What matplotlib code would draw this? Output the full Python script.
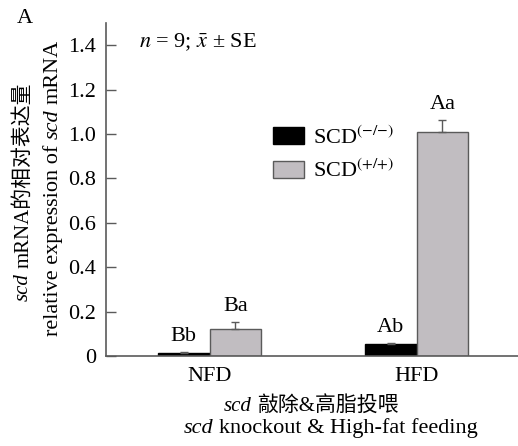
import matplotlib
matplotlib.use("Agg")
import matplotlib.pyplot as plt
from matplotlib.transforms import IdentityTransform
import numpy as np

plt.rcParams['font.family'] = ['Liberation Serif', 'Noto Sans CJK SC']
plt.rcParams['mathtext.fontset'] = 'stix'

groups = ["NFD", "HFD"]
ko_vals = [0.015, 0.055]
ko_se = [0.004, 0.005]
wt_vals = [0.122, 1.01]
wt_se = [0.032, 0.055]
ko_marks = ["Bb", "Ab"]
wt_marks = ["Ba", "Aa"]
yticks = [0, 0.2, 0.4, 0.6, 0.8, 1.0, 1.2, 1.4]
ytick_labels = ["0", "0.2", "0.4", "0.6", "0.8", "1.0", "1.2", "1.4"]

W, H = 518, 446
FS = 16

fig = plt.figure(figsize=(W / 100, H / 100), dpi=100)
ax = fig.add_axes([106 / W, 1 - 356 / H, 1 - 106 / W, (356 - 23) / H])

x = np.arange(len(groups))
w = 0.25
edge = "#5a5a5a"
b1 = ax.bar(x - w / 2, ko_vals, w, color="black", edgecolor="black", linewidth=1,
            yerr=[[0, 0], ko_se], capsize=3, ecolor=edge, error_kw={"elinewidth": 1, "capthick": 1},
            label=r"SCD$^{({-}/{-})}$")
b2 = ax.bar(x + w / 2, wt_vals, w, color="#c1bdc1", edgecolor=edge, linewidth=1,
            yerr=[[0, 0], wt_se], capsize=3, ecolor=edge, error_kw={"elinewidth": 1, "capthick": 1},
            label=r"SCD$^{({+}/{+})}$")

for xi, v, e, m in zip(x - w / 2, ko_vals, ko_se, ko_marks):
    ax.annotate(m, (xi, v + e), xytext=(0, 4), textcoords="offset points",
                ha="center", va="bottom", fontsize=FS)
for xi, v, e, m in zip(x + w / 2, wt_vals, wt_se, wt_marks):
    ax.annotate(m, (xi, v + e), xytext=(0, 4), textcoords="offset points",
                ha="center", va="bottom", fontsize=FS)

ax.set_xlim(-0.5, 1.49)
ax.set_ylim(0, 1.5)
ax.set_yticks(yticks)
ax.set_yticklabels(ytick_labels)
ax.set_xticks(x)
ax.set_xticklabels(groups)
ax.tick_params(axis="y", direction="in", length=7, width=1, color=edge, pad=7, labelsize=FS)
ax.tick_params(axis="x", length=0, pad=8, labelsize=FS)
for s in ["top", "right"]:
    ax.spines[s].set_visible(False)
for s in ["left", "bottom"]:
    ax.spines[s].set_color(edge)
    ax.spines[s].set_linewidth(1.2)

ax.legend(loc="upper left", bbox_to_anchor=(273 / W, 1 - 126 / H), bbox_transform=fig.transFigure,
          frameon=False, fontsize=FS, handlelength=1.4, handleheight=0.8, labelspacing=0.5,
          handletextpad=0.4, borderpad=0, borderaxespad=0)

fig.text(139 / W, 1 - 47 / H, r"$n$ = 9; $\bar{x}$ ± SE", fontsize=FS, ha="left", va="baseline")
fig.text(17 / W, 1 - 23 / H, "A", fontsize=FS, ha="left", va="baseline")


def rich_line(xc, yc, pieces, rotation=0, size=FS):
    # lay out mixed italic/upright pieces along one line, centred at (xc, yc) in pixels
    r = fig.canvas.get_renderer()
    texts, widths = [], []
    for s, style in pieces:
        t = fig.text(0, 0, s, fontsize=size, style=style, transform=IdentityTransform(),
                     rotation=rotation, rotation_mode="anchor", ha="left", va="baseline")
        bb = t.get_window_extent(r)
        texts.append(t)
        widths.append(bb.width if rotation == 0 else bb.height)
    gap = 0.25 * size * 100 / 72
    total = sum(widths) + gap * (len(pieces) - 1)
    pos = -total / 2
    for t, wd in zip(texts, widths):
        if rotation == 0:
            t.set_position((xc + pos, yc))
        else:
            t.set_position((xc, yc + pos))
        pos += wd + gap


rich_line(311, H - 411, [("scd", "italic"), ("敲除&高脂投喂", "normal")], size=15)
rich_line(331, H - 433, [("scd", "italic"), ("knockout & High-fat feeding", "normal")])
rich_line(28, H - 192, [("scd", "italic"), ("mRNA的相对表达量", "normal")], rotation=90, size=15)
rich_line(58, H - 188, [("relative expression of", "normal"), ("scd", "italic"), ("mRNA", "normal")],
          rotation=90)

fig.savefig("out.png", dpi=100)
